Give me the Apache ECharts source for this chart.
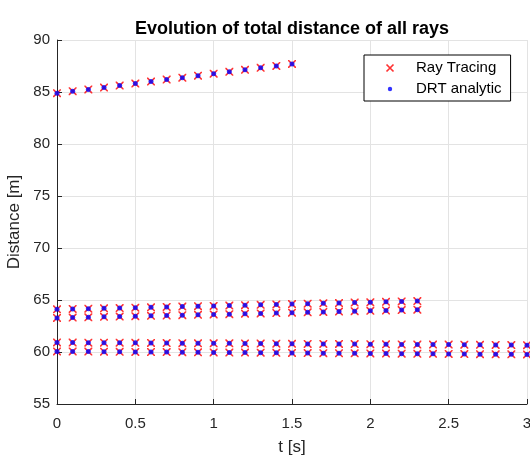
<!DOCTYPE html>
<html><head><meta charset="utf-8">
<script src="https://cdn.jsdelivr.net/npm/echarts@6/dist/echarts.min.js"></script>
<style>html,body{margin:0;padding:0;background:#fff}#c{width:530px;height:457px}</style>
</head><body><div id="c"></div>
<script>
const tTop = [0,0.1,0.2,0.3,0.4,0.5,0.6,0.7,0.8,0.9,1.0,1.1,1.2,1.3,1.4,1.5];
const distTop = [84.89,85.08,85.25,85.43,85.62,85.81,86.0,86.19,86.38,86.57,86.76,86.94,87.13,87.32,87.51,87.70];
const tMid = [0,0.1,0.2,0.3,0.4,0.5,0.6,0.7,0.8,0.9,1.0,1.1,1.2,1.3,1.4,1.5,1.6,1.7,1.8,1.9,2.0,2.1,2.2,2.3];
const distMidUpper = [64.11,64.14,64.17,64.20,64.23,64.26,64.30,64.33,64.37,64.40,64.43,64.47,64.50,64.54,64.57,64.61,64.64,64.68,64.71,64.75,64.78,64.82,64.86,64.90];
const distMidLower = [63.28,63.31,63.34,63.38,63.41,63.44,63.48,63.51,63.54,63.58,63.61,63.64,63.68,63.71,63.75,63.78,63.82,63.85,63.89,63.92,63.96,63.99,64.03,64.07];
const tLow = [0,0.1,0.2,0.3,0.4,0.5,0.6,0.7,0.8,0.9,1.0,1.1,1.2,1.3,1.4,1.5,1.6,1.7,1.8,1.9,2.0,2.1,2.2,2.3,2.4,2.5,2.6,2.7,2.8,2.9,3.0];
const distLowUpper = [60.92,60.91,60.90,60.89,60.89,60.88,60.87,60.86,60.85,60.84,60.83,60.83,60.82,60.81,60.80,60.79,60.78,60.77,60.77,60.76,60.75,60.74,60.73,60.72,60.71,60.71,60.70,60.69,60.68,60.67,60.66];
const distLowLower = [60.06,60.05,60.04,60.03,60.02,60.01,60.00,59.99,59.98,59.97,59.96,59.95,59.94,59.93,59.92,59.91,59.90,59.89,59.88,59.87,59.86,59.85,59.84,59.83,59.82,59.81,59.80,59.79,59.78,59.78,59.77];

function pairs(ts, ds){ return ts.map((t,i)=>[t, ds[i]]); }
const groups = [[tTop,distTop],[tMid,distMidUpper],[tMid,distMidLower],[tLow,distLowUpper],[tLow,distLowLower]];
const allPts = [];
groups.forEach(g => pairs(g[0], g[1]).forEach(p => allPts.push(p)));

const crossPath = 'path://M0,0 L1.4,0 L5,3.6 L8.6,0 L10,0 L10,1.4 L6.4,5 L10,8.6 L10,10 L8.6,10 L5,6.4 L1.4,10 L0,10 L0,8.6 L3.6,5 L0,1.4 Z';
const svgCross = "<svg xmlns='http://www.w3.org/2000/svg' width='14' height='14'><path d='M3.5,3.5 L10.5,10.5 M10.5,3.5 L3.5,10.5' stroke='#ff0000' stroke-width='1.7' fill='none'/></svg>";
const svgDot = "<svg xmlns='http://www.w3.org/2000/svg' width='14' height='14'><circle cx='7' cy='7' r='2.2' fill='#0000ff'/></svg>";
const legCross = 'image://data:image/svg+xml;charset=utf-8,' + encodeURIComponent(svgCross);
const legDot = 'image://data:image/svg+xml;charset=utf-8,' + encodeURIComponent(svgDot);
const font = 'Liberation Sans, Arial, Helvetica, sans-serif';

const chart = echarts.init(document.getElementById('c'), null, {renderer:'canvas'});
chart.setOption({
  animation:false,
  backgroundColor:'#fff',
  title:{text:'Evolution of total distance of all rays', left:287, textAlign:'center', top:15,
    textStyle:{fontFamily:font, fontSize:18, fontWeight:'bold', color:'#000'}},
  grid:{left:57, right:3, top:40, bottom:53, containLabel:false, outerBoundsMode:'none'},
  legend:{orient:'vertical', left:364, top:55,
    backgroundColor:'#fff', borderColor:'#000', borderWidth:1, borderRadius:0,
    padding:[4,9,3,19], itemGap:3, itemWidth:14, itemHeight:14,
    textStyle:{fontFamily:font, fontSize:15, color:'#000', lineHeight:18, padding:[0,0,0,14]},
    data:[{name:'Ray Tracing', icon:legCross},
          {name:'DRT analytic', icon:legDot}]},
  xAxis:{type:'value', min:0, max:3, interval:0.5,
    name:'t [s]', nameLocation:'middle', nameGap:35,
    nameTextStyle:{fontFamily:font, fontSize:17, color:'#262626'},
    axisLine:{show:true, onZero:false, lineStyle:{color:'#262626', width:1}},
    axisTick:{show:true, inside:true, length:5, lineStyle:{color:'#262626'}},
    axisLabel:{fontFamily:font, fontSize:15, color:'#262626', margin:12},
    splitLine:{show:true, lineStyle:{color:'#e3e3e3', width:1}}},
  yAxis:{type:'value', min:55, max:90, interval:5,
    name:'Distance [m]', nameLocation:'middle', nameGap:26,
    nameTextStyle:{fontFamily:font, fontSize:17, color:'#262626'},
    axisLine:{show:true, onZero:false, lineStyle:{color:'#262626', width:1}},
    axisTick:{show:true, inside:true, length:5, lineStyle:{color:'#262626'}},
    axisLabel:{fontFamily:font, fontSize:15, color:'#262626', margin:7},
    splitLine:{show:true, lineStyle:{color:'#e3e3e3', width:1}}},
  series:[
    {name:'Ray Tracing', type:'scatter', data:allPts, symbol:crossPath, symbolSize:8,
      itemStyle:{color:'#ff0000'}, z:2},
    {name:'DRT analytic', type:'scatter', data:allPts, symbol:'circle', symbolSize:5,
      itemStyle:{color:'#0000ff'}, z:3}
  ]
});
</script></body></html>
